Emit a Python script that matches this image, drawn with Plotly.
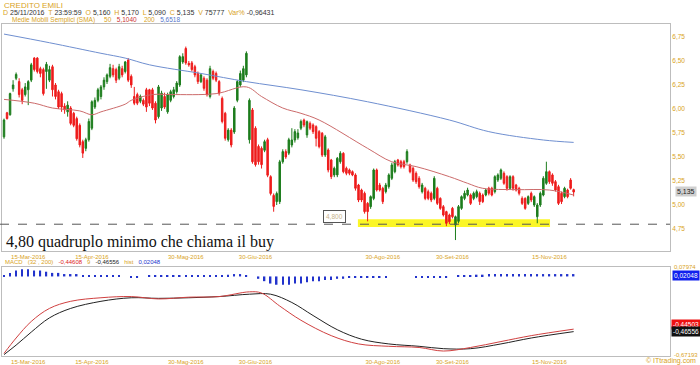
import plotly.graph_objects as go
import pandas as pd

# ---------------- data ----------------
holidays = ["2016-03-25", "2016-03-28", "2016-08-15"]
dates = [d.strftime("%Y-%m-%d") for d in pd.bdate_range("2016-03-03", "2016-11-25")
         if d.strftime("%Y-%m-%d") not in holidays]

open_ = [5.71, 5.96, 5.94, 6.21, 6.32, 6.285, 6.20, 6.15, 6.20, 6.30,
         6.53, 6.53, 6.42, 6.41, 6.39, 6.30, 6.44, 6.25, 6.18, 6.16,
         6.03, 5.97, 6.01, 5.955, 5.90, 5.83, 5.66, 5.59, 5.68, 5.80,
         6.02, 6.09, 6.13, 6.23, 6.285, 6.34, 6.42, 6.41, 6.32, 6.42,
         6.39, 6.51, 6.34, 6.13, 6.15, 6.08, 6.09, 6.20, 6.20, 6.20,
         6.06, 5.92, 6.01, 6.13, 5.97, 6.09, 6.13, 6.18, 6.25, 6.49,
         6.63, 6.475, 6.48, 6.44, 6.37, 6.285, 6.32, 6.30, 6.13, 6.39,
         6.37, 6.285, 6.11, 5.955, 5.68, 5.78, 5.76, 6.09, 6.25, 6.30,
         6.355, 5.68, 5.99, 5.80, 5.61, 5.59, 5.57, 5.68, 5.295, 5.10,
         5.035, 5.035, 5.45, 5.556, 5.54, 5.625, 5.677, 5.70, 5.80, 5.885,
         5.73, 5.85, 5.833, 5.816, 5.764, 5.747, 5.52, 5.573, 5.469, 5.313,
         5.313, 5.451, 5.538, 5.382, 5.365, 5.347, 5.313, 5.208, 5.156, 5.122,
         5.017, 4.983, 5.069, 5.365, 5.208, 5.174, 5.139, 5.191, 5.278, 5.347,
         5.469, 5.451, 5.451, 5.451, 5.417, 5.382, 5.33, 5.278, 5.139, 5.174,
         5.139, 5.122, 5.069, 5.174, 5.069, 4.983, 4.931, 4.896, 4.965, 4.792,
         4.83, 4.965, 5.069, 5.104, 5.104, 5.069, 5.087, 5.122, 5.104, 5.104,
         5.174, 5.174, 5.139, 5.26, 5.278, 5.33, 5.295, 5.174, 5.295, 5.208,
         5.174, 5.069, 5.069, 5.017, 5.122, 5.00, 4.878, 5.00, 5.104, 5.226,
         5.347, 5.313, 5.243, 5.191, 5.122, 5.087, 5.156, 5.26, 5.16]
high = [5.90, 5.97, 6.17, 6.30, 6.38, 6.32, 6.22, 6.27, 6.30, 6.48,
        6.54, 6.54, 6.44, 6.43, 6.49, 6.45, 6.46, 6.27, 6.20, 6.18,
        6.06, 6.08, 6.03, 5.97, 5.92, 5.85, 5.68, 5.70, 5.90, 6.09,
        6.12, 6.22, 6.25, 6.33, 6.37, 6.47, 6.46, 6.43, 6.47, 6.45,
        6.50, 6.53, 6.36, 6.23, 6.17, 6.15, 6.11, 6.22, 6.21, 6.22,
        6.08, 6.25, 6.19, 6.17, 6.17, 6.20, 6.23, 6.29, 6.56, 6.58,
        6.65, 6.50, 6.50, 6.46, 6.39, 6.37, 6.34, 6.32, 6.45, 6.41,
        6.39, 6.30, 6.13, 5.97, 5.80, 5.80, 6.03, 6.30, 6.40, 6.45,
        6.60, 6.11, 6.01, 5.82, 5.63, 5.61, 5.68, 5.70, 5.31, 5.12,
        5.14, 5.47, 5.58, 5.58, 5.70, 5.80, 5.79, 5.79, 5.89, 5.90,
        5.88, 5.87, 5.85, 5.83, 5.78, 5.76, 5.73, 5.59, 5.48, 5.40,
        5.50, 5.56, 5.55, 5.40, 5.38, 5.36, 5.33, 5.22, 5.17, 5.14,
        5.03, 5.10, 5.38, 5.38, 5.23, 5.19, 5.23, 5.33, 5.44, 5.47,
        5.48, 5.47, 5.47, 5.58, 5.43, 5.40, 5.35, 5.30, 5.23, 5.19,
        5.16, 5.14, 5.30, 5.19, 5.08, 5.00, 4.94, 4.91, 4.98, 4.89,
        5.00, 5.10, 5.15, 5.18, 5.12, 5.14, 5.16, 5.14, 5.12, 5.17,
        5.19, 5.19, 5.31, 5.33, 5.38, 5.35, 5.31, 5.31, 5.31, 5.22,
        5.19, 5.09, 5.08, 5.10, 5.14, 5.10, 5.02, 5.14, 5.30, 5.451,
        5.36, 5.33, 5.26, 5.21, 5.14, 5.19, 5.17, 5.28, 5.17]
low = [5.69, 5.89, 5.93, 6.18, 6.30, 6.12, 6.05, 6.13, 6.04, 6.28,
       6.39, 6.37, 6.33, 6.14, 6.21, 6.28, 6.13, 6.10, 6.00, 5.97,
       5.95, 5.92, 5.83, 5.81, 5.67, 5.60, 5.49, 5.56, 5.66, 5.78,
       6.00, 6.07, 6.10, 6.20, 6.26, 6.32, 6.33, 6.27, 6.30, 6.33,
       6.37, 6.28, 6.22, 6.04, 6.04, 6.06, 6.03, 5.97, 6.03, 5.99,
       5.85, 5.90, 5.98, 6.00, 5.95, 6.07, 6.11, 6.16, 6.23, 6.47,
       6.46, 6.44, 6.39, 6.33, 6.26, 6.27, 6.19, 6.13, 6.11, 6.30,
       6.28, 6.14, 5.85, 5.67, 5.66, 5.60, 5.74, 6.07, 6.23, 6.28,
       6.33, 5.64, 5.43, 5.40, 5.42, 5.38, 5.55, 5.29, 5.10, 4.93,
       5.00, 5.01, 5.43, 5.48, 5.52, 5.60, 5.65, 5.68, 5.78, 5.81,
       5.70, 5.78, 5.74, 5.61, 5.59, 5.50, 5.50, 5.34, 5.27, 5.29,
       5.29, 5.43, 5.33, 5.31, 5.31, 5.30, 5.15, 5.03, 5.03, 4.91,
       4.83, 4.96, 5.05, 5.14, 5.14, 5.01, 5.12, 5.17, 5.26, 5.33,
       5.40, 5.38, 5.38, 5.43, 5.33, 5.24, 5.22, 5.17, 5.12, 5.05,
       5.05, 5.03, 5.05, 5.00, 4.95, 4.88, 4.78, 4.80, 4.86, 4.635,
       4.81, 4.95, 5.05, 5.09, 5.00, 5.05, 5.07, 5.00, 5.02, 5.09,
       5.10, 5.09, 5.12, 5.24, 5.26, 5.21, 5.15, 5.16, 5.15, 5.14,
       5.10, 5.00, 4.95, 5.00, 5.03, 4.98, 4.81, 4.98, 5.09, 5.21,
       5.22, 5.20, 5.14, 5.00, 5.01, 5.07, 5.07, 5.16, 5.09]
close = [5.885, 5.90, 6.16, 6.25, 6.36, 6.15, 6.09, 6.23, 6.285, 6.46,
         6.41, 6.39, 6.37, 6.16, 6.465, 6.41, 6.20, 6.13, 6.02, 6.02,
         5.99, 6.04, 5.85, 5.83, 5.69, 5.625, 5.54, 5.68, 5.87, 6.075,
         6.09, 6.20, 6.23, 6.30, 6.355, 6.43, 6.355, 6.30, 6.44, 6.355,
         6.49, 6.30, 6.25, 6.06, 6.06, 6.13, 6.05, 6.02, 6.06, 6.01,
         5.885, 6.23, 6.165, 6.02, 6.15, 6.18, 6.20, 6.27, 6.545, 6.545,
         6.48, 6.46, 6.41, 6.355, 6.285, 6.355, 6.215, 6.15, 6.42, 6.32,
         6.30, 6.165, 5.87, 5.695, 5.78, 5.625, 6.01, 6.285, 6.37, 6.42,
         6.58, 6.09, 5.45, 5.42, 5.45, 5.42, 5.66, 5.31, 5.12, 4.985,
         5.12, 5.45, 5.556, 5.50, 5.68, 5.677, 5.764, 5.75, 5.87, 5.833,
         5.868, 5.80, 5.764, 5.695, 5.608, 5.52, 5.71, 5.365, 5.295, 5.382,
         5.486, 5.538, 5.347, 5.33, 5.33, 5.313, 5.174, 5.052, 5.052, 4.931,
         4.931, 5.087, 5.365, 5.156, 5.156, 5.035, 5.208, 5.313, 5.417, 5.451,
         5.417, 5.399, 5.399, 5.556, 5.347, 5.26, 5.243, 5.191, 5.208, 5.069,
         5.069, 5.052, 5.278, 5.017, 4.965, 4.896, 4.809, 4.826, 4.878, 4.878,
         4.983, 5.087, 5.122, 5.156, 5.017, 5.122, 5.139, 5.035, 5.035, 5.156,
         5.122, 5.104, 5.295, 5.313, 5.365, 5.226, 5.174, 5.295, 5.174, 5.156,
         5.122, 5.017, 4.965, 5.087, 5.052, 5.087, 5.00, 5.122, 5.278, 5.347,
         5.243, 5.226, 5.156, 5.017, 5.035, 5.174, 5.087, 5.174, 5.135]

# moving averages, read at sampled sessions (index into dates)
sma50_idx = [0, 10, 16, 25, 29, 32, 40, 42, 49, 55, 70, 80, 85, 92, 98, 104, 120, 128, 136, 147, 153, 158, 169, 180, 188]
sma50_val = [6.10, 6.06, 6.01, 5.98, 5.94, 5.97, 6.05, 6.09, 6.15, 6.15, 6.16, 6.23, 6.13, 6.01, 5.955, 5.885, 5.59, 5.45, 5.40, 5.295, 5.226, 5.174, 5.16, 5.156, 5.104]
sma200_idx = [0, 15, 32, 40, 48, 65, 80, 98, 120, 147, 160, 178, 188]
sma200_val = [6.78, 6.69, 6.58, 6.53, 6.46, 6.37, 6.285, 6.20, 6.075, 5.885, 5.764, 5.677, 5.652]

# MACD panel (sampled): MACD line (red), signal line (black), histogram (blue)
macd_idx = [0, 4, 9, 15, 22, 32, 42, 51, 61, 71, 81, 85, 91, 98, 108, 117, 127, 137, 145, 154, 164, 174, 188]
macd_val = [-0.65, -0.52, -0.38, -0.27, -0.21, -0.18, -0.17, -0.19, -0.175, -0.17, -0.13, -0.14, -0.25, -0.37, -0.50, -0.57, -0.59, -0.60, -0.63, -0.60, -0.55, -0.50, -0.445]
signal_idx = [0, 4, 9, 15, 22, 32, 42, 51, 61, 71, 81, 88, 95, 102, 110, 118, 127, 137, 145, 154, 164, 174, 188]
signal_val = [-0.66, -0.58, -0.47, -0.35, -0.27, -0.21, -0.18, -0.185, -0.18, -0.17, -0.15, -0.15, -0.22, -0.33, -0.45, -0.53, -0.57, -0.59, -0.61, -0.61, -0.57, -0.52, -0.466]
hist_idx = list(range(0, 189, 2))
hist_val = [0.01, 0.03, 0.05, 0.06, 0.06, 0.05, 0.05, 0.04, 0.03, 0.03,
            0.02, 0.02, 0.02, 0.01, 0.01, 0.01, 0.01, 0.01, 0.01, 0.005,
            0.0, -0.005, -0.005, 0.0, 0.005, 0.005, 0.005, 0.005, 0.01, 0.01,
            0.01, 0.01, 0.01, 0.01, 0.005, 0.005, 0.01, 0.015, 0.02, 0.02,
            0.01, 0.0, -0.02, -0.04, -0.06, -0.07, -0.07, -0.07, -0.06, -0.06,
            -0.05, -0.04, -0.04, -0.03, -0.03, -0.02, -0.02, -0.01, -0.01, -0.01,
            -0.01, -0.01, -0.005, -0.005, 0.0, 0.0, 0.0, 0.0, -0.005, -0.005,
            -0.005, -0.01, -0.01, -0.01, 0.0, 0.005, 0.01, 0.01, 0.015, 0.015,
            0.02, 0.02, 0.02, 0.02, 0.02, 0.02, 0.02, 0.02, 0.02, 0.02,
            0.02, 0.02, 0.02, 0.02, 0.02]

ytick_vals = [4.75, 5.00, 5.25, 5.50, 5.75, 6.00, 6.25, 6.50, 6.75]
ytick_text = ["4,75", "5,00", "5,25", "5,50", "5,75", "6,00", "6,25", "6,50", "6,75"]
xtick_dates = ["2016-03-15", "2016-04-15", "2016-05-30", "2016-06-30", "2016-08-30", "2016-09-30", "2016-11-15"]
xtick_text = ["15-Mar-2016", "15-Apr-2016", "30-Mag-2016", "30-Giu-2016", "30-Ago-2016", "30-Set-2016", "15-Nov-2016"]
support_level = 4.80
last_close = 5.135

# ---------------- figure ----------------
W, H = 700, 365
GOLD = "#d9a31c"
FONT = "Liberation Sans, Arial, sans-serif"

def px(x):
    return x / W

def py(y):
    return 1 - y / H

fig = go.Figure()

fig.add_trace(go.Candlestick(
    x=dates, open=open_, high=high, low=low, close=close,
    increasing=dict(line=dict(color="#1d7d1d", width=1), fillcolor="#1d7d1d"),
    decreasing=dict(line=dict(color="#ee1c1c", width=1), fillcolor="#ee1c1c"),
    whiskerwidth=0, xaxis="x", yaxis="y", showlegend=False, hoverinfo="skip"))

fig.add_trace(go.Scatter(x=[dates[i] for i in sma50_idx], y=sma50_val, mode="lines",
                         line=dict(color="#cc6b6b", width=1, shape="spline"), xaxis="x", yaxis="y",
                         showlegend=False, hoverinfo="skip"))
fig.add_trace(go.Scatter(x=[dates[i] for i in sma200_idx], y=sma200_val, mode="lines",
                         line=dict(color="#6f8fd0", width=1, shape="spline"), xaxis="x", yaxis="y",
                         showlegend=False, hoverinfo="skip"))

fig.add_trace(go.Bar(x=[dates[i] for i in hist_idx], y=hist_val, marker=dict(color="#2233cc", line=dict(width=0)),
                     width=0.5, xaxis="x2", yaxis="y2", showlegend=False, hoverinfo="skip"))
fig.add_trace(go.Scatter(x=[dates[i] for i in signal_idx], y=signal_val, mode="lines",
                         line=dict(color="#222222", width=1, shape="spline"), xaxis="x2", yaxis="y2",
                         showlegend=False, hoverinfo="skip"))
fig.add_trace(go.Scatter(x=[dates[i] for i in macd_idx], y=macd_val, mode="lines",
                         line=dict(color="#d04040", width=1, shape="spline"), xaxis="x2", yaxis="y2",
                         showlegend=False, hoverinfo="skip"))

xr = [-0.66, 219.8]
axis_common = dict(type="category", categoryorder="array", categoryarray=dates, range=xr,
                   domain=[px(2), px(670)], showgrid=False, showline=True, linecolor="#bdbdbd",
                   linewidth=1, mirror=True, ticks="", tickmode="array", tickvals=xtick_dates,
                   ticktext=xtick_text, tickfont=dict(family=FONT, size=6, color=GOLD),
                   zeroline=False, fixedrange=True, automargin=False, ticklabelstandoff=0)

fig.update_layout(
    width=W, height=H, margin=dict(l=0, r=0, t=0, b=0, autoexpand=False),
    paper_bgcolor="white", plot_bgcolor="white",
    xaxis=dict(axis_common, anchor="y", rangeslider=dict(visible=False)),
    xaxis2=dict(axis_common, anchor="y2"),
    yaxis=dict(domain=[py(251), py(24)], range=[4.521, 6.885], side="right", anchor="x",
               tickmode="array", tickvals=ytick_vals, ticktext=ytick_text, showgrid=False,
               showline=True, linecolor="#bdbdbd", mirror=True, ticks="", automargin=False,
               tickfont=dict(family=FONT, size=6.5, color=GOLD), zeroline=False),
    yaxis2=dict(domain=[py(356), py(267)], range=[-0.67193, 0.07974], side="right", anchor="x2",
                showticklabels=False, showgrid=False, showline=True, linecolor="#bdbdbd", mirror=True,
                ticks="", zeroline=False, automargin=False),
    bargap=0.5,
)

# support line
fig.add_shape(type="line", xref="paper", yref="y", x0=0, x1=px(670), y0=support_level, y1=support_level,
              line=dict(color="#555555", width=1, dash="dash"))
# yellow highlight of the lows
fig.add_shape(type="rect", xref="x", yref="y", x0=116.8, x1=180.2, y0=4.772, y1=4.852,
              fillcolor="rgba(250,245,0,0.85)", line=dict(width=0), layer="below")

ann = []
def txt(x, y, text, size=7, color="#333333", xanchor="left", **kw):
    ann.append(dict(x=px(x), y=py(y), xref="paper", yref="paper", text=text, showarrow=False,
                    xanchor=xanchor, yanchor="middle", font=dict(family=FONT, size=size, color=color), **kw))

def sp(t, c):
    return f"<span style='color:{c}'>{t}</span>"

txt(2, 5, "CREDITO EMILI", size=8, color=GOLD)
txt(1, 13, sp("D ", GOLD) + "25/11/2016  " + sp("T ", GOLD) + "23:59:59  " + sp("O ", GOLD) + "5,160  "
    + sp("H ", GOLD) + "5,170  " + sp("L ", GOLD) + "5,090  " + sp("C ", GOLD) + "5,135  "
    + sp("V ", GOLD) + "75777  " + sp("Var% ", GOLD) + "-0,96431", size=7, color="#333333")
txt(10, 20, sp("Medie Mobili Semplici (SMA)", GOLD) + "     " + sp("50", GOLD) + "   " + sp("5,1040", "#cc3333")
    + "    " + sp("200", GOLD) + "   " + sp("5,6518", "#5577cc"), size=6.5)

txt(4, 242, "4,80 quadruplo minimo che chiama il buy", size=16, color="#111111")
ann[-1]["font"]["family"] = "Liberation Serif, Times New Roman, serif"

txt(334, 216, "4,800", size=6.5, color="#c8b48a", xanchor="center", bordercolor="#555555",
    borderwidth=1, borderpad=2, bgcolor="white")
txt(686, 192, "5,135", size=7, color="#222222", xanchor="center", bgcolor="#cfcfcf", borderpad=1)

txt(3, 261.5, sp("MACD", GOLD) + "   " + sp("(32 , 200)", GOLD) + "   " + sp("-0,44608", "#dd2222") + "   "
    + sp("9", GOLD) + "   " + sp("-0,46556", "#222222") + "   " + sp("hist", GOLD) + "   "
    + sp("0,02048", "#2233cc"), size=6)

txt(672, 267, "0,07974", size=6, color=GOLD)
txt(686, 275, "0,02048", size=6.5, color="white", xanchor="center", bgcolor="#1020ee", borderpad=1)
txt(686, 324, "-0,44503", size=6.5, color="white", xanchor="center", bgcolor="#ee1111", borderpad=1)
txt(686, 331, "-0,46556", size=6.5, color="white", xanchor="center", bgcolor="#111111", borderpad=1)
txt(672, 355, "-0,67193", size=6, color=GOLD)
txt(698, 361, "© ITtrading.com", size=7, color="#d8a020", xanchor="right")

fig.update_layout(annotations=ann)
fig.write_html("out.html", config={"displayModeBar": False},
               post_script="document.body.style.margin='0px';document.body.style.overflow='hidden';")
